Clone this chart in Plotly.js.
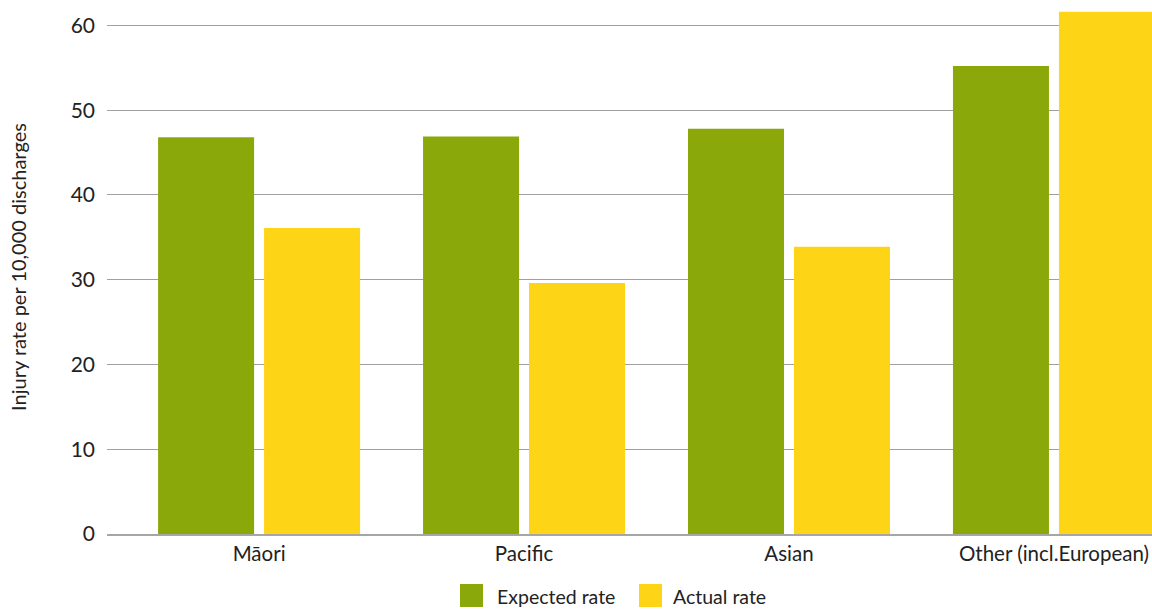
<!DOCTYPE html>
<html>
<head>
<meta charset="utf-8">
<script src="https://cdn.plot.ly/plotly-3.0.1.min.js"></script>
<style>
  html, body { margin: 0; padding: 0; background: #ffffff; }
  #chart { width: 1152px; height: 610px; }
</style>
</head>
<body>
<div id="chart"></div>
<script>
// Injury rate per 10,000 discharges, by ethnic group
const categories = ['Māori', 'Pacific', 'Asian', 'Other (incl.European)'];
const expectedRate = [46.8, 46.9, 47.8, 55.2];
const actualRate = [36.1, 29.6, 33.9, 61.6];
const seriesNames = ['Expected rate', 'Actual rate'];
const yTicks = [0, 10, 20, 30, 40, 50, 60];

const GREEN = '#8ba80a';
const YELLOW = '#fdd516';
const FONT = 'Lato, "Open Sans", sans-serif';

const traces = [
  { type: 'bar', name: seriesNames[0], x: categories, y: expectedRate,
    marker: { color: GREEN }, hoverinfo: 'x+y+name' },
  { type: 'bar', name: seriesNames[1], x: categories, y: actualRate,
    marker: { color: YELLOW }, hoverinfo: 'x+y+name' }
];

// Legend drawn below the plot with larger swatches
const legendShapes = [];
const legendNotes = [];
const legendItems = [
  { name: seriesNames[0], color: GREEN, x0: 460, tx: 495 },
  { name: seriesNames[1], color: YELLOW, x0: 639, tx: 671 }
];
const W = 1152, H = 610, ML = 107, MR = 0, MT = 0, MB = 76;
const pw = W - ML - MR, ph = H - MT - MB;
const px = v => (v - ML) / pw;
const py = v => (H - MB - v) / ph;
legendItems.forEach(it => {
  legendShapes.push({
    type: 'rect', xref: 'paper', yref: 'paper',
    x0: px(it.x0), x1: px(it.x0 + 23), y0: py(584), y1: py(607),
    fillcolor: it.color, line: { width: 0 }
  });
  legendNotes.push({
    xref: 'paper', yref: 'paper', x: px(it.tx), y: py(596),
    xanchor: 'left', yanchor: 'middle', showarrow: false,
    text: it.name, font: { family: FONT, size: 19.5, color: '#222222' }
  });
});

const layout = {
  width: W, height: H,
  margin: { l: ML, r: MR, t: MT, b: MB, pad: 0 },
  paper_bgcolor: '#ffffff', plot_bgcolor: '#ffffff',
  font: { family: FONT, size: 17, color: '#222222' },
  showlegend: false,
  barmode: 'group',
  bargap: 0.2,
  bargroupgap: 0.094,
  xaxis: {
    type: 'category',
    range: [-0.574, 3.37],
    showgrid: false,
    showline: true, linecolor: '#a6a6a6', linewidth: 2,
    ticks: '', ticklabelstandoff: 0,
    tickfont: { family: FONT, size: 20.5, color: '#222222' },
    fixedrange: true
  },
  yaxis: {
    range: [0, 63],
    tickvals: yTicks,
    ticktext: yTicks.map(String),
    showgrid: true, gridcolor: '#a0a0a0', gridwidth: 1,
    zeroline: false, showline: false,
    ticks: '', ticklabelstandoff: 11,
    tickfont: { family: FONT, size: 21, color: '#222222' },
    title: { text: 'Injury rate per 10,000 discharges', standoff: 38,
             font: { family: FONT, size: 20, color: '#222222' } },
    fixedrange: true
  },
  shapes: legendShapes,
  annotations: legendNotes
};

Plotly.newPlot('chart', traces, layout, { displayModeBar: false, staticPlot: true });
</script>
</body>
</html>
